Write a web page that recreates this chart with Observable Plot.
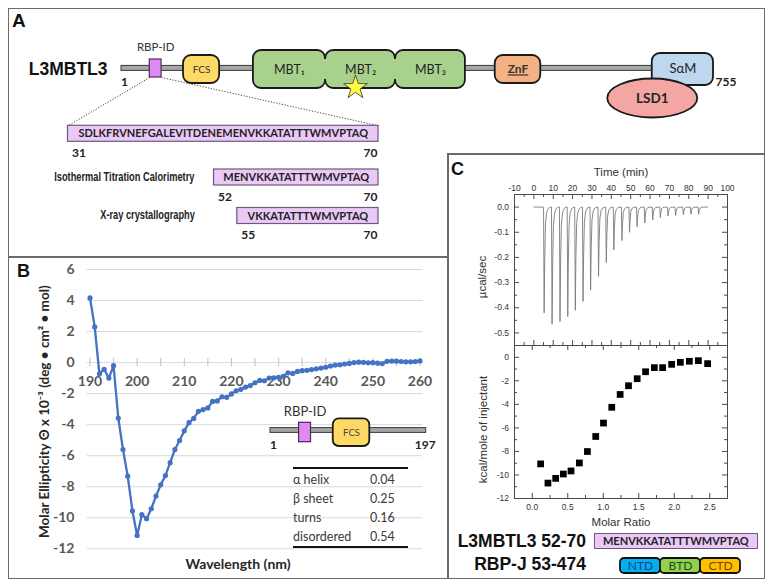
<!DOCTYPE html>
<html>
<head>
<meta charset="utf-8">
<script src="https://cdn.jsdelivr.net/npm/d3@7"></script>
<script src="https://cdn.jsdelivr.net/npm/@observablehq/plot@0.6"></script>
<style>
html,body{margin:0;padding:0;background:#fff;}
#root{position:relative;width:780px;height:585px;overflow:hidden;background:#fff;}
#root svg{position:absolute;left:0;top:0;}
.ab{position:absolute;white-space:nowrap;}
</style>
</head>
<body>
<div id="root"></div>
<script>
// ================= DATA =================
// Panel A: L3MBTL3 domain map (residue positions as drawn in the schematic)
const domainNames = ["RBP-ID", "FCS", "MBT₁", "MBT₂", "MBT₃", "ZnF", "SαM"];
const domainStart = [37, 80, 169, 261, 350, 477, 677];
const domainEnd   = [52, 126, 261, 350, 439, 535, 755];
const proteinLength = 755;
const starResidue = 299;
const lsd1Residue = 677;

// Panel A: peptides
const peptideMethods = ["", "Isothermal Titration Calorimetry", "X-ray crystallography"];
const peptideStart = [31, 52, 55];
const peptideEnd = [70, 70, 70];
const peptideSeq = ["SDLKFRVNEFGALEVITDENEMENVKKATATTTWMVPTAQ", "MENVKKATATTTWMVPTAQ", "VKKATATTTWMVPTAQ"];

// Panel B: CD spectrum
const cdWavelength = [190,191,192,193,194,195,196,197,198,199,200,201,202,203,204,205,206,207,208,209,
  210,211,212,213,214,215,216,217,218,219,220,221,222,223,224,225,226,227,228,229,
  230,231,232,233,234,235,236,237,238,239,240,241,242,243,244,245,246,247,248,249,
  250,251,252,253,254,255,256,257,258,259,260];
const cdEllipticity = [4.17,2.30,-0.72,-0.43,-1.00,-0.20,-3.57,-5.60,-7.32,-9.56,-11.14,-9.80,-10.06,-9.42,-8.60,-7.88,-7.28,-6.45,-5.60,-5.02,
  -4.40,-3.87,-3.60,-3.14,-3.03,-2.92,-2.50,-2.47,-2.20,-2.24,-2.02,-1.82,-1.72,-1.58,-1.48,-1.30,-1.15,-1.17,-1.00,-0.98,
  -0.95,-0.88,-0.66,-0.70,-0.57,-0.52,-0.50,-0.45,-0.40,-0.35,-0.30,-0.22,-0.16,-0.14,-0.09,-0.05,0.00,0.03,0.02,-0.01,
  0.00,-0.04,-0.06,0.08,0.10,0.09,0.07,0.05,0.05,0.07,0.11];
const cdYTicks = [6, 4, 2, 0, -2, -4, -6, -8, -10, -12];
const cdXTicks = [190, 200, 210, 220, 230, 240, 250, 260];
const cdTickMarks = [190,195,200,205,210,215,220,225,230,235,240,245,250,255,260];
const constructLength = 197;
const structureNames = ["α helix", "β sheet", "turns", "disordered"];
const structureFractions = ["0.04", "0.25", "0.16", "0.54"];

// Panel C: ITC
const injectionTime = [5.3,9.4,13.5,17.5,21.4,25.4,29.3,33.4,37.4,41.3,45.5,49.4,53.3,57.3,61.4,65.3,69.3,73.2,77.2,81.1,85.1];
const injectionPeak = [-0.42,-0.465,-0.455,-0.435,-0.41,-0.375,-0.33,-0.275,-0.22,-0.17,-0.133,-0.10,-0.078,-0.063,-0.051,-0.042,-0.035,-0.033,-0.031,-0.028,-0.029];
const runStart = 0, runEnd = 89.7;
const molarRatio = [0.118,0.221,0.330,0.438,0.546,0.664,0.777,0.894,1.003,1.120,1.238,1.356,1.478,1.596,1.720,1.836,1.963,2.086,2.213,2.340,2.470];
const injectantHeat = [-9.06,-10.69,-10.29,-9.92,-9.66,-8.98,-8.01,-6.73,-5.59,-4.25,-3.16,-2.42,-1.82,-1.23,-0.88,-0.88,-0.60,-0.43,-0.34,-0.29,-0.54];
const timeTicks = [-10,0,10,20,30,40,50,60,70,80,90,100];
const timeMinor = [-5,5,15,25,35,45,55,65,75,85,95];
const rateTicks = [0,-0.1,-0.2,-0.3,-0.4,-0.5];
const rateMinor = [-0.05,-0.15,-0.25,-0.35,-0.45];
const ratioTicks = [0,0.5,1,1.5,2,2.5];
const ratioMinor = [0.25,0.75,1.25,1.75,2.25];
const heatTicks = [0,-2,-4,-6,-8,-10,-12];
const heatMinor = [-1,-3,-5,-7,-9,-11];
const rbpjDomains = ["NTD", "BTD", "CTD"];

// ================= STYLE / LAYOUT =================
const lato = "Lato, 'Open Sans', sans-serif";
const arial = "'Liberation Sans', Arial, sans-serif";
const violet = "#df8af0", violetStroke = "#4d2a5c";
const lavender = "#ebc9f7", lavenderStroke = "#6b5b78";
const domainStyle = {
  "RBP-ID": {fill: violet, y1: 59, y2: 77},
  "FCS": {fill: "#ffd966", y1: 55, y2: 83},
  "MBT₁": {fill: "#a9d18e", y1: 50, y2: 88},
  "MBT₂": {fill: "#a9d18e", y1: 50, y2: 88},
  "MBT₃": {fill: "#a9d18e", y1: 50, y2: 88},
  "ZnF": {fill: "#f4b183", y1: 55, y2: 83},
  "SαM": {fill: "#bdd7ee", y1: 53, y2: 85}
};
const domainColors = {NTD: "#00b0f0", BTD: "#92d050", CTD: "#ffc000"};
const domainTextColors = {NTD: "#1f3f80", BTD: "#244a1a", CTD: "#7a4200"};
const rowY = [133.3, 177, 215.5];
const textPad = 17; // sub-peptide boxes are widened to fit their text
const transparent = {background: "transparent", overflow: "visible"};

const root = document.getElementById("root");
function addSvg(svg) { root.appendChild(svg); return svg; }
function addDiv(html, css) {
  const d = document.createElement("div");
  d.className = "ab"; d.innerHTML = html; d.style.cssText += css; root.appendChild(d); return d;
}

// custom ellipse symbol (rx = r, ry = r*k)
const ellipseSymbol = (k) => ({
  draw(ctx, size) {
    const rx = Math.sqrt(size / Math.PI), ry = rx * k, c = 0.5523;
    ctx.moveTo(rx, 0);
    ctx.bezierCurveTo(rx, ry * c, rx * c, ry, 0, ry);
    ctx.bezierCurveTo(-rx * c, ry, -rx, ry * c, -rx, 0);
    ctx.bezierCurveTo(-rx, -ry * c, -rx * c, -ry, 0, -ry);
    ctx.bezierCurveTo(rx * c, -ry, rx, -ry * c, rx, 0);
    ctx.closePath();
  }
});

// ================= PANEL A =================
const domains = domainNames.map((name, i) => ({name, start: domainStart[i], end: domainEnd[i], ...domainStyle[name]}));
const rbp = domains[0];
const boxed = domains.slice(1);
const mbt = domains.filter(d => d.name.startsWith("MBT"));
const mbtJunctions = mbt.slice(0, -1).map(d => ({x: d.end, y1: d.y1, y2: d.y2}));
const mid = d => (d.start + d.end) / 2;

const mapXOpts = {domain: [1, proteinLength], range: [121, 713]};
const seqXOpts = {domain: [30.5, 70.5], range: [67.5, 378]};
const mapX = Plot.scale({x: mapXOpts});
const seqX = Plot.scale({x: seqXOpts});

const mapPlot = Plot.plot({
  width: 780, height: 585, margin: 0, style: transparent,
  x: {...mapXOpts, axis: null},
  y: {type: "identity", axis: null},
  color: {type: "identity"},
  marks: [
    Plot.rect([0], {x1: () => 1, x2: () => proteinLength, y1: () => 65.4, y2: () => 70.4, fill: "#a6a6a6", stroke: "#3a3a3a", strokeWidth: 1}),
    Plot.rect(boxed, {x1: "start", x2: "end", y1: "y1", y2: "y2", fill: "fill", stroke: "#1a1a1a", strokeWidth: 1.8, rx: 8}),
    Plot.rect(mbtJunctions, {x1: "x", x2: "x", y1: d => d.y1 + 9, y2: d => d.y2 - 9, insetLeft: -3, insetRight: -3, fill: "#a9d18e"}),
    Plot.rect([rbp], {x1: "start", x2: "end", y1: "y1", y2: "y2", fill: violet, stroke: violetStroke, strokeWidth: 1.2}),
    Plot.dot([starResidue], {x: d => d, y: () => 87, symbol: "star", r: 7.5, fill: "#ffff3c", stroke: "#444", strokeWidth: 0.9}),
    Plot.dot([lsd1Residue], {x: d => d, y: () => 97.5, symbol: ellipseSymbol(19.5 / 45), r: 45, fill: "#f4a6a3", stroke: "#1a1a1a", strokeWidth: 1.8}),
    Plot.text(domains.filter(d => d.name === "FCS"), {x: mid, y: () => 69, text: "name", fontSize: 10, fontFamily: lato, fill: "#333"}),
    Plot.text(mbt, {x: mid, y: () => 69, text: "name", fontSize: 12.5, fontFamily: lato, fill: "#222"}),
    Plot.text(domains.filter(d => d.name === "ZnF"), {x: mid, y: () => 69, text: "name", fontSize: 12, fontWeight: 700, fontFamily: lato, fill: "#333"}),
    Plot.text(domains.filter(d => d.name === "SαM"), {x: mid, y: () => 68, text: "name", fontSize: 13, fontFamily: lato, fill: "#222"}),
    Plot.text(["LSD1"], {x: () => lsd1Residue, y: () => 98, text: d => d, fontSize: 13.5, fontWeight: 700, fontFamily: lato, fill: "#222"}),
    Plot.text(["L3MBTL3"], {x: () => 1, dx: -14, y: () => 68.5, text: d => d, textAnchor: "end", fontSize: 17.5, fontWeight: 700, fontFamily: arial, fill: "#111"}),
    Plot.text(["RBP-ID"], {x: () => mid(rbp), y: () => 47, text: d => d, fontSize: 11.5, fontFamily: lato, fill: "#333"}),
    Plot.text(["1"], {x: () => 1, dx: 3, y: () => 81.5, text: d => d, fontSize: 12, fontWeight: 700, fontFamily: lato, fill: "#222"}),
    Plot.text([String(proteinLength)], {x: () => proteinLength, dx: 2, y: () => 81.5, text: d => d, textAnchor: "start", fontSize: 12, fontWeight: 700, fontFamily: lato, fill: "#222"})
  ]
});
mapPlot.querySelectorAll("text").forEach(t => { if (t.textContent === "ZnF") t.style.textDecoration = "underline"; });
addSvg(mapPlot);

const peptides = peptideSeq.map((seq, i) => ({seq, method: peptideMethods[i], start: peptideStart[i], end: peptideEnd[i], y: rowY[i]}));
const fullPep = peptides.slice(0, 1), subPep = peptides.slice(1);
const pepText = {fontSize: 11, fontWeight: 700, fontFamily: lato, fill: "#222"};
const numText = {fontSize: 12, fontWeight: 700, fontFamily: lato, fill: "#222"};
const seqPlot = Plot.plot({
  width: 780, height: 585, margin: 0, style: transparent,
  x: {...seqXOpts, axis: null},
  y: {type: "identity", axis: null},
  marks: [
    Plot.link([
      {x1: seqX.invert(mapX.apply(rbp.start)), x2: peptideStart[0] - 0.5},
      {x1: seqX.invert(mapX.apply(rbp.end)), x2: peptideEnd[0] + 0.5}
    ], {x1: "x1", x2: "x2", y1: () => rbp.y2, y2: () => rowY[0] - 8, stroke: "#444", strokeWidth: 1, strokeDasharray: "1.2,1.6"}),
    Plot.rect(fullPep, {x1: d => d.start - 0.5, x2: d => d.end + 0.5, y1: d => d.y - 8, y2: d => d.y + 8, fill: lavender, stroke: lavenderStroke, strokeWidth: 1.2}),
    Plot.rect(subPep, {x1: d => d.start - 0.5, x2: d => d.end + 0.5, y1: d => d.y - 8, y2: d => d.y + 8, insetLeft: -textPad, fill: lavender, stroke: lavenderStroke, strokeWidth: 1.2}),
    Plot.text(fullPep, {x: d => (d.start + d.end) / 2, y: "y", text: "seq", ...pepText}),
    Plot.text(subPep, {x: d => (d.start + d.end) / 2, dx: -textPad / 2, y: "y", text: "seq", ...pepText}),
    Plot.text(fullPep, {x: d => d.start - 0.5, dx: 4, y: d => d.y + 19.5, text: d => String(d.start), textAnchor: "start", ...numText}),
    Plot.text(subPep, {x: d => d.start - 0.5, dx: 4 - textPad, y: d => d.y + 19.5, text: d => String(d.start), textAnchor: "start", ...numText}),
    Plot.text(peptides, {x: d => d.end + 0.5, dx: -1, y: d => d.y + 19.5, text: d => String(d.end), textAnchor: "end", ...numText})
  ]
});
addSvg(seqPlot);
// method labels (condensed, Arial Narrow style), right-aligned left of the sub-peptide boxes
const methodRight = seqX.apply(peptideStart[1] - 0.5) - textPad - 19;
subPep.forEach(d => {
  addDiv(d.method, `right:${780 - methodRight}px;top:${d.y - 0.49 * 12.5}px;font:700 12.5px/1 ${arial};color:#222;transform:scaleX(0.74);transform-origin:100% 50%;`);
});

// ================= PANEL B =================
const cd = cdWavelength.map((w, i) => ({w, v: cdEllipticity[i]}));
const bPlot = Plot.plot({
  width: 780, height: 585, marginLeft: 89.5, marginRight: 360.5, marginTop: 269, marginBottom: 36.7, style: transparent,
  x: {domain: [190, 260], axis: null},
  y: {domain: [-12, 6], axis: null},
  marks: [
    Plot.ruleY(cdYTicks, {y: d => d, x1: () => 189.4, x2: () => 260.6, stroke: "#d9d9d9", strokeWidth: 1}),
    Plot.ruleX(cdTickMarks, {x: d => d, y1: () => -0.26, y2: () => 0.26, stroke: "#bfbfbf", strokeWidth: 1}),
    Plot.text(cdYTicks, {x: () => 190, dx: -15.5, y: d => d, text: d => String(d), textAnchor: "end", fontSize: 14, fontWeight: 700, fontFamily: lato, fill: "#595959"}),
    Plot.text(cdXTicks, {x: d => d, y: () => 0, dy: 19, text: d => String(d), fontSize: 14, fontWeight: 700, fontFamily: lato, fill: "#595959"}),
    Plot.line(cd, {x: "w", y: "v", stroke: "#4472c4", strokeWidth: 2.3}),
    Plot.dot(cd, {x: "w", y: "v", r: 2.6, fill: "#4472c4"}),
    Plot.text(["Molar Ellipticity Θ x 10⁻³ (deg • cm² • mol)"], {frameAnchor: "left", textAnchor: "middle", dx: -45.5, dy: 2.5, rotate: -90, text: d => d, fontSize: 13.5, fontWeight: 700, fontFamily: lato, fill: "#262626"}),
    Plot.text(["Wavelength (nm)"], {frameAnchor: "bottom", dx: -17, dy: 20, text: d => d, fontSize: 14, fontWeight: 700, fontFamily: lato, fill: "#262626"})
  ]
});
addSvg(bPlot);

const fcs = domains[1];
const insetPlot = Plot.plot({
  width: 780, height: 585, margin: 0, style: transparent,
  x: {domain: [1, constructLength], range: [270, 425.7], axis: null},
  y: {type: "identity", axis: null},
  marks: [
    Plot.rect([0], {x1: () => 1, x2: () => constructLength, y1: () => 427.6, y2: () => 432.4, fill: "#a6a6a6", stroke: "#3a3a3a", strokeWidth: 1}),
    Plot.rect([rbp], {x1: "start", x2: "end", y1: () => 422.3, y2: () => 441.7, fill: violet, stroke: violetStroke, strokeWidth: 1.2}),
    Plot.rect([fcs], {x1: "start", x2: "end", y1: () => 418.3, y2: () => 446, fill: "#ffd966", stroke: "#1a1a1a", strokeWidth: 1.8, rx: 6}),
    Plot.text([fcs], {x: mid, y: () => 432.5, text: "name", fontSize: 9.5, fontFamily: lato, fill: "#444"}),
    Plot.text(["RBP-ID"], {x: () => mid(rbp), y: () => 411.5, text: d => d, fontSize: 13, fontFamily: lato, fill: "#333"}),
    Plot.text(["1"], {x: () => 1, dx: 3, y: () => 445, text: d => d, fontSize: 12, fontWeight: 700, fontFamily: lato, fill: "#222"}),
    Plot.text([String(constructLength)], {x: () => constructLength, dx: -1, y: () => 445, text: d => d, fontSize: 12, fontWeight: 700, fontFamily: lato, fill: "#222"})
  ]
});
addSvg(insetPlot);

// secondary-structure table
const table = addDiv("", "left:293px;top:466.7px;width:115px;border-top:2px solid #111;border-bottom:2px solid #111;padding-top:1.5px;font:12.5px " + lato + ";color:#3a3a3a;");
structureNames.forEach((n, i) => {
  const row = document.createElement("div");
  row.style.cssText = "position:relative;height:19px;line-height:19px;";
  row.innerHTML = `<span>${n}</span><span style="position:absolute;left:77px;">${structureFractions[i]}</span>`;
  table.appendChild(row);
});

// ================= PANEL C =================
const peakShape = [[-0.3, 0], [0, 1], [0.3, 0.5], [0.7, 0.16], [1.3, 0.05], [2.2, 0.012], [3.2, 0]];
const thermo = [{t: runStart, q: 0}];
injectionTime.forEach((t, i) => peakShape.forEach(([dt, f]) => thermo.push({t: t + dt, q: injectionPeak[i] * f})));
thermo.push({t: runEnd, q: 0});
const axisInk = "#4a4a4a";
const topH = 151, topW = 213, botH = 153;
const topPlot = Plot.plot({
  width: 780, height: 585, marginLeft: 514, marginRight: 53, marginTop: 194, marginBottom: 240, style: transparent,
  x: {domain: [-10, 100], axis: null},
  y: {domain: [-0.55, 0.05], axis: null},
  marks: [
    Plot.tickX(timeTicks, {x: d => d, insetBottom: topH - 5, stroke: axisInk}),
    Plot.tickX(timeTicks, {x: d => d, insetTop: topH - 5, stroke: axisInk}),
    Plot.tickX(timeMinor, {x: d => d, insetBottom: topH - 3, stroke: axisInk}),
    Plot.tickX(timeMinor, {x: d => d, insetTop: topH - 3, stroke: axisInk}),
    Plot.tickY(rateTicks, {y: d => d, insetRight: topW - 5, stroke: axisInk}),
    Plot.tickY(rateTicks, {y: d => d, insetLeft: topW - 5, stroke: axisInk}),
    Plot.tickY(rateMinor, {y: d => d, insetRight: topW - 3, stroke: axisInk}),
    Plot.tickY(rateMinor, {y: d => d, insetLeft: topW - 3, stroke: axisInk}),
    Plot.line(thermo, {x: "t", y: "q", stroke: "#7a7a7a", strokeWidth: 0.9}),
    Plot.frame({stroke: axisInk, strokeWidth: 1}),
    Plot.text(timeTicks, {x: d => d, frameAnchor: "top", dy: -9.7, text: d => String(d), fontSize: 8.5, fontFamily: arial, fill: "#333"}),
    Plot.text(rateTicks, {y: d => d, frameAnchor: "left", dx: -5.5, textAnchor: "end", text: d => d.toFixed(1), fontSize: 8.5, fontFamily: arial, fill: "#333"}),
    Plot.text(["Time (min)"], {frameAnchor: "top", dy: -27, text: d => d, fontSize: 11.5, fontFamily: arial, fill: "#333"}),
    Plot.text(["µcal/sec"], {frameAnchor: "left", textAnchor: "middle", dx: -32, dy: 7, rotate: -90, text: d => d, fontSize: 11.5, fontFamily: arial, fill: "#333"})
  ]
});
addSvg(topPlot);

const itc = molarRatio.map((r, i) => ({r, h: injectantHeat[i]}));
const botPlot = Plot.plot({
  width: 780, height: 585, marginLeft: 514, marginRight: 53, marginTop: 345, marginBottom: 87, style: transparent,
  x: {domain: [-0.25, 2.75], axis: null},
  y: {domain: [-12, 1], axis: null},
  marks: [
    Plot.tickX(ratioTicks, {x: d => d, insetBottom: botH - 5, stroke: axisInk}),
    Plot.tickX(ratioTicks, {x: d => d, insetTop: botH - 5, stroke: axisInk}),
    Plot.tickX(ratioMinor, {x: d => d, insetBottom: botH - 3, stroke: axisInk}),
    Plot.tickX(ratioMinor, {x: d => d, insetTop: botH - 3, stroke: axisInk}),
    Plot.tickY(heatTicks, {y: d => d, insetRight: topW - 5, stroke: axisInk}),
    Plot.tickY(heatTicks, {y: d => d, insetLeft: topW - 5, stroke: axisInk}),
    Plot.tickY(heatMinor, {y: d => d, insetRight: topW - 3, stroke: axisInk}),
    Plot.tickY(heatMinor, {y: d => d, insetLeft: topW - 3, stroke: axisInk}),
    Plot.dot(itc, {x: "r", y: "h", symbol: "square", r: 3.8, fill: "#000"}),
    Plot.frame({stroke: axisInk, strokeWidth: 1}),
    Plot.text(ratioTicks, {x: d => d, frameAnchor: "bottom", dy: 11, text: d => d.toFixed(1), fontSize: 8.5, fontFamily: arial, fill: "#333"}),
    Plot.text(heatTicks, {y: d => d, frameAnchor: "left", dx: -5.5, textAnchor: "end", text: d => String(d), fontSize: 8.5, fontFamily: arial, fill: "#333"}),
    Plot.text(["Molar Ratio"], {frameAnchor: "bottom", dy: 27, text: d => d, fontSize: 11.5, fontFamily: arial, fill: "#333"}),
    Plot.text(["kcal/mole of injectant"], {frameAnchor: "left", textAnchor: "middle", dx: -31, dy: 7.5, rotate: -90, text: d => d, fontSize: 11.5, fontFamily: arial, fill: "#333"})
  ]
});
addSvg(botPlot);

const domPlot = Plot.plot({
  width: 780, height: 585, margin: 0, style: transparent,
  x: {type: "band", domain: rbpjDomains, range: [620, 740.7], padding: 0, axis: null},
  y: {type: "band", domain: ["RBP-J"], range: [557.3, 572.7], padding: 0, axis: null},
  color: {type: "identity"},
  marks: [
    Plot.cell(rbpjDomains, {x: d => d, y: () => "RBP-J", fill: d => domainColors[d], stroke: "#111", strokeWidth: 1.8, rx: 4, inset: 0}),
    Plot.text(rbpjDomains, {x: d => d, y: () => "RBP-J", text: d => d, fill: d => domainTextColors[d], fontSize: 12, fontFamily: lato})
  ]
});
addSvg(domPlot);

// ================= HTML labels & frames =================
addDiv("L3MBTL3 52-70", `right:194px;top:${542 - 0.49 * 17.5}px;font:700 17.5px/1 ${arial};color:#111;text-align:right;`);
addDiv("RBP-J 53-474", `right:194px;top:${565 - 0.49 * 17.5}px;font:700 17.5px/1 ${arial};color:#111;text-align:right;`);
addDiv(peptideSeq[1], `left:594px;top:533px;width:163.7px;height:16px;box-sizing:border-box;border:1.2px solid ${lavenderStroke};background:${lavender};font:700 11px/14px ${lato};color:#222;text-align:center;`);

addDiv("A", `left:12px;top:${20 - 0.49 * 19}px;font:700 19px/1 ${arial};color:#111;`);
addDiv("B", `left:17px;top:${271 - 0.49 * 18}px;font:700 18px/1 ${arial};color:#111;`);
addDiv("C", `left:451px;top:${169 - 0.49 * 18}px;font:700 18px/1 ${arial};color:#111;`);

const ink = "#6b6b6b";
addDiv("", `left:8px;top:8px;width:757px;height:571px;box-sizing:border-box;border:1.5px solid ${ink};`);
addDiv("", `left:8px;top:256px;width:439px;height:1.5px;background:${ink};`);
addDiv("", `left:447px;top:153px;width:1.5px;height:426px;background:${ink};`);
addDiv("", `left:447px;top:153px;width:318px;height:1.5px;background:${ink};`);
</script>
</body>
</html>
